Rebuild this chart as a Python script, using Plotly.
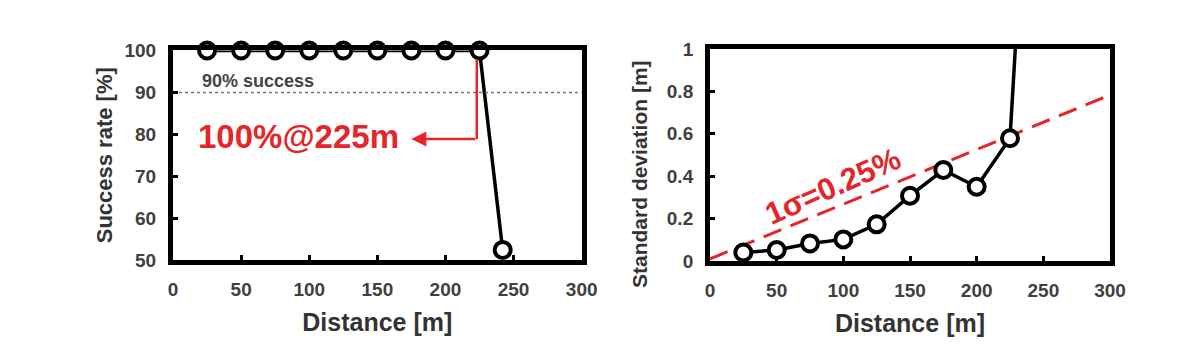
import plotly.graph_objects as go

# ---- data ----
dist_left = [25, 50, 75, 100, 125, 150, 175, 200, 225, 242]
success_rate = [100, 100, 100, 100, 100, 100, 100, 100, 100, 52.4]

dist_right = [25, 50, 75, 100, 125, 150, 175, 200, 225, 245]
std_dev = [0.04, 0.052, 0.083, 0.102, 0.173, 0.308, 0.429, 0.35, 0.579, 2.7]
n_visible = 9  # last point lies above the y range

sigma_x = [0, 300]
sigma_y = [0.01, 0.783]

x_ticks = [0, 50, 100, 150, 200, 250, 300]
y_ticks_left = [50, 60, 70, 80, 90, 100]
y_ticks_right = [0, 0.2, 0.4, 0.6, 0.8, 1]
y_tick_text_right = ["0", "0.2", "0.4", "0.6", "0.8", "1"]

threshold = 90
arrow_x_from, arrow_x_to = 223, 175
arrow_y_top, arrow_y = 98, 78.9

# ---- style ----
FONT = "Liberation Sans, Arial, sans-serif"
RED = "#e4262a"
GRAY = "#404040"
TITLE_GRAY = "#333333"

fig = go.Figure()

marker_style = dict(symbol="circle", size=16, color="white",
                    line=dict(color="black", width=4))

fig.add_trace(go.Scatter(x=dist_left, y=success_rate, mode="lines+markers",
                         line=dict(color="black", width=3.5), marker=marker_style,
                         cliponaxis=False, xaxis="x", yaxis="y", showlegend=False))

# 90% threshold
fig.add_trace(go.Scatter(x=[0, 300], y=[threshold, threshold], mode="lines",
                         line=dict(color="#777777", width=1.5, dash="dot"),
                         xaxis="x", yaxis="y", showlegend=False))

# red arrow (vertical part)
fig.add_trace(go.Scatter(x=[arrow_x_from, arrow_x_from], y=[arrow_y_top, arrow_y],
                         mode="lines", line=dict(color=RED, width=2.5),
                         xaxis="x", yaxis="y", showlegend=False))

# right: sigma line
fig.add_trace(go.Scatter(x=sigma_x, y=sigma_y, mode="lines",
                         line=dict(color=RED, width=3, dash="19px,10px"),
                         xaxis="x2", yaxis="y2", showlegend=False))
fig.add_trace(go.Scatter(x=dist_right, y=std_dev, mode="lines",
                         line=dict(color="black", width=3.5),
                         xaxis="x2", yaxis="y2", showlegend=False))
fig.add_trace(go.Scatter(x=dist_right[:n_visible], y=std_dev[:n_visible], mode="markers",
                         marker=marker_style, cliponaxis=False,
                         xaxis="x2", yaxis="y2", showlegend=False))

tickfont = dict(family=FONT, size=19, color=GRAY, weight="bold")
axis_common = dict(showline=True, mirror=True, linewidth=5, linecolor="black",
                   ticks="inside", ticklen=5, tickwidth=3, tickcolor="black",
                   showgrid=False, zeroline=False, tickfont=tickfont,
                   automargin=False, ticklabelstandoff=8)

fig.update_layout(
    width=1184, height=362,
    margin=dict(l=0, r=0, t=0, b=0),
    paper_bgcolor="white", plot_bgcolor="white",
    font=dict(family=FONT),
    xaxis=dict(domain=[0.13936, 0.48454], range=[0, 300], tickvals=x_ticks, anchor="y",
               title=dict(text="Distance [m]", standoff=16,
                          font=dict(family=FONT, size=25, color=TITLE_GRAY, weight="bold")),
               **axis_common),
    yaxis=dict(domain=[0.30387, 0.88260], range=[50, 100], tickvals=y_ticks_left, anchor="x",
               title=dict(text="Success rate [%]", standoff=7,
                          font=dict(family=FONT, size=22, color=TITLE_GRAY, weight="bold")),
               **axis_common),
    xaxis2=dict(domain=[0.59291, 0.93074], range=[0, 300], tickvals=x_ticks, anchor="y2",
                title=dict(text="Distance [m]", standoff=16,
                           font=dict(family=FONT, size=25, color=TITLE_GRAY, weight="bold")),
                **axis_common),
    yaxis2=dict(domain=[0.30110, 0.88674], range=[0, 1], tickvals=y_ticks_right,
                ticktext=y_tick_text_right, anchor="x2", **axis_common),
)

# right y-axis title (sits lower than the plot centre in the reference)
fig.add_annotation(x=0.5329, y=0.5414, xref="paper", yref="paper",
                   text="Standard deviation [m]", showarrow=False, textangle=-90,
                   font=dict(family=FONT, size=21, color=TITLE_GRAY, weight="bold"))

fig.add_annotation(x=20, y=threshold, xref="x", yref="y", text="90% success",
                   showarrow=False, xanchor="left", yanchor="bottom", yshift=-1,
                   font=dict(family=FONT, size=18, color="#444444", weight="bold"))

fig.add_annotation(x=arrow_x_to, y=arrow_y, ax=arrow_x_from, ay=arrow_y,
                   xref="x", yref="y", axref="x", ayref="y", text="",
                   showarrow=True, arrowhead=2, arrowsize=1.2, arrowwidth=2.5,
                   arrowcolor=RED)

fig.add_annotation(x=arrow_x_to, y=arrow_y, xref="x", yref="y", text="100%@225m",
                   showarrow=False, xanchor="right", yanchor="middle",
                   xshift=-10, yshift=2,
                   font=dict(family=FONT, size=33, color=RED, weight="bold"))

fig.add_annotation(x=92, y=0.35, xref="x2", yref="y2", text="1σ=0.25%",
                   showarrow=False, textangle=-24,
                   font=dict(family=FONT, size=31, color=RED, weight="bold"))

fig.write_html("out.html")
